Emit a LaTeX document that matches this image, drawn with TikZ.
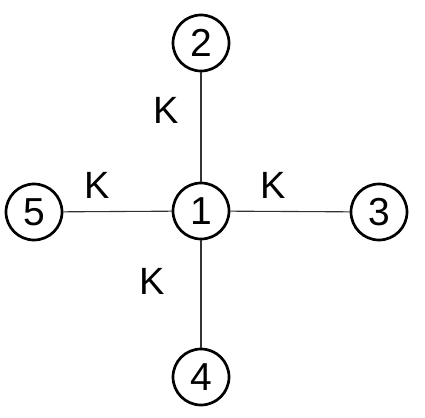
\documentclass[tikz,border=0pt]{standalone}
\usepackage{fontspec}
\setmainfont{Liberation Sans}
\usetikzlibrary{positioning}
\tikzset{
  vtx/.style={circle, draw, line width=2.7pt, minimum size=56pt, inner sep=0pt,
    font=\fontsize{39}{44}\selectfont},
  link/.style={line width=1.1pt, draw=black!80},
  klabel/.style={font=\fontsize{38}{44}\selectfont},
}

\begin{document}
\begin{tikzpicture}[x=1pt, y=-1pt]
  \useasboundingbox (0,0) rectangle (425,417);
  % vertices
  \node[vtx] (n1) at (201,211) {1};
  \node[vtx] (n2) at (201,43) {2};
  \node[vtx] (n3) at (379,212) {3};
  \node[vtx] (n4) at (201,377) {4};
  \node[vtx] (n5) at (34,212) {5};
  % links
  \draw[link] (n1) -- (n2);
  \draw[link] (n1) -- (n3);
  \draw[link] (n1) -- (n4);
  \draw[link] (n1) -- (n5);
  % labels
  \node[klabel] (k12) at (166,110) {K};
  \node[klabel] (k13) at (273,185) {K};
  \node[klabel] (k14) at (152,281) {K};
  \node[klabel] (k15) at (97,185) {K};
\end{tikzpicture}
\end{document}
